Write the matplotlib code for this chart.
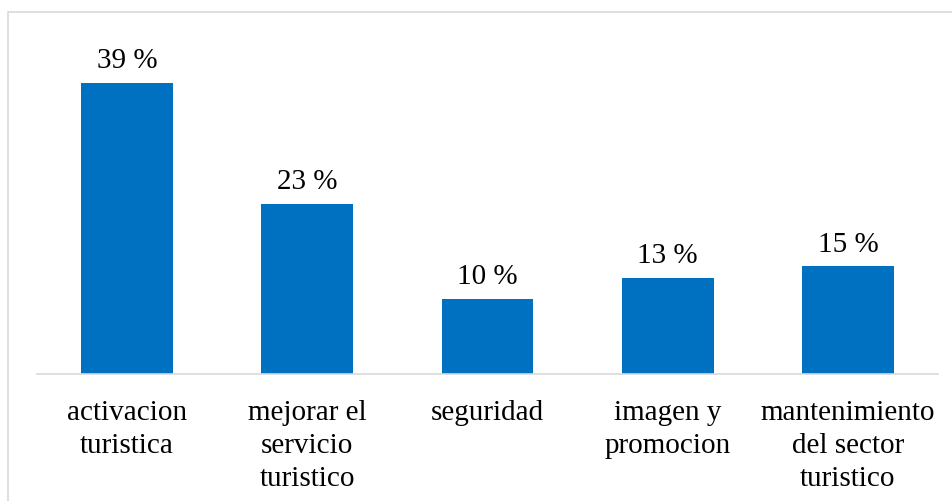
import matplotlib.pyplot as plt
from matplotlib.patches import Rectangle

# categorias e valores
categorias = ["activacion\nturistica", "mejorar el\nservicio\nturistico", "seguridad",
              "imagen y\npromocion", "mantenimiento\ndel sector\nturistico"]
valores = [39, 22.8, 10, 12.9, 14.4]
rotulos = ["39 %", "23 %", "10 %", "13 %", "15 %"]

plt.rcParams['font.family'] = ['Liberation Serif', 'DejaVu Serif']

fig = plt.figure(figsize=(9.52, 5.02), dpi=100)
# moldura cinza clara (so esquerda e topo aparecem)
fig.patches.append(Rectangle((7.5 / 952, -0.1), 1.0, 1.1 - 13 / 502, transform=fig.transFigure,
                             fill=False, edgecolor='#D9D9D9', linewidth=1.2))

ax = fig.add_axes([37 / 952, 127 / 502, 901 / 952, 336 / 502])
x = range(len(categorias))
ax.bar(x, valores, width=0.51, color='#0070C0')

for i, (v, r) in enumerate(zip(valores, rotulos)):
    ax.annotate(r, (i, v), xytext=(0, 11.5), textcoords='offset points',
                ha='center', va='baseline', fontsize=21)

ax.set_xlim(-0.5, len(categorias) - 0.5)
ax.set_ylim(0, 45)
ax.set_xticks(list(x))
ax.set_xticklabels(categorias, fontsize=21, linespacing=1.36, va='top')
ax.tick_params(axis='x', length=0, pad=18)
ax.set_yticks([])
for s in ['top', 'right', 'left']:
    ax.spines[s].set_visible(False)
ax.spines['bottom'].set_color('#D9D9D9')
ax.spines['bottom'].set_linewidth(1.2)

fig.savefig('out.png', dpi=100)
